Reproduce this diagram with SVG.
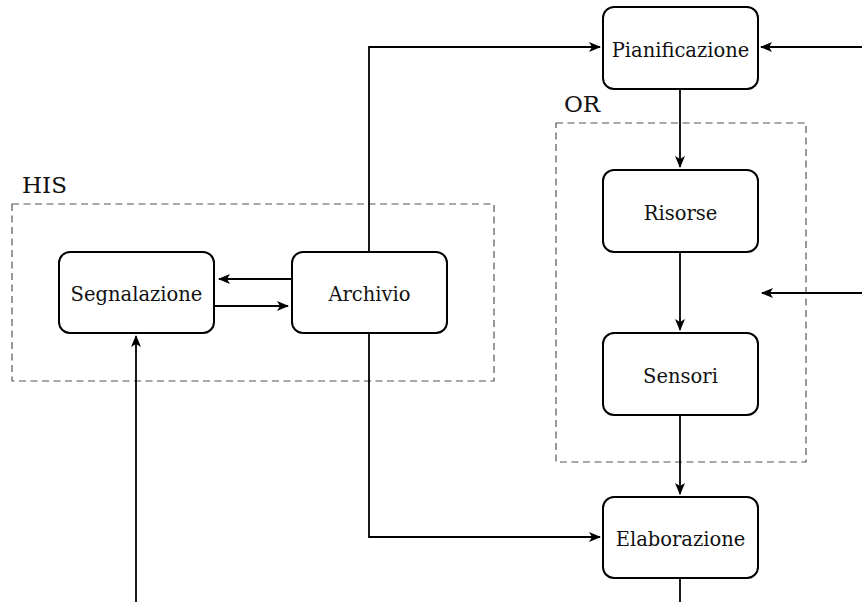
<svg xmlns="http://www.w3.org/2000/svg" width="862" height="602" viewBox="0 0 862 602">
<defs>
<style>
.box{fill:#fff;stroke:#000;stroke-width:2}
.grp{fill:none;stroke:#555;stroke-width:1.2;stroke-dasharray:7 4.5}
.lbl{font-family:"DejaVu Serif","Liberation Serif",serif;font-size:19.5px;text-anchor:middle;fill:#111}
.glbl{font-family:"DejaVu Serif","Liberation Serif",serif;font-size:23px;fill:#111}
.c{fill:none;stroke:#000;stroke-width:1.8}
</style>
<marker id="ah" viewBox="0 0 12 10" refX="11" refY="5" markerWidth="12" markerHeight="10" markerUnits="userSpaceOnUse" orient="auto">
<path d="M0,0 L12,5 L0,10 L3,5 Z" fill="#000"/>
</marker>
</defs>
<rect width="862" height="602" fill="#fff"/>
<g id="HIS">
<rect class="grp" x="12" y="204" width="482" height="177"/>
<text class="glbl" x="22" y="193">HIS</text>
</g>
<g id="OR">
<rect class="grp" x="556" y="123" width="250" height="339"/>
<text class="glbl" x="564" y="112">OR</text>
</g>
<g id="connectors">
<path class="c" d="M292,279 H219" marker-end="url(#ah)"/>
<path class="c" d="M214,306 H288" marker-end="url(#ah)"/>
<path class="c" d="M369,252 V47 H600" marker-end="url(#ah)"/>
<path class="c" d="M862,47 H761" marker-end="url(#ah)"/>
<path class="c" d="M369,333 V537 H600" marker-end="url(#ah)"/>
<path class="c" d="M680,89 V167" marker-end="url(#ah)"/>
<path class="c" d="M680,252 V330" marker-end="url(#ah)"/>
<path class="c" d="M680,415 V494" marker-end="url(#ah)"/>
<path class="c" d="M862,293 H762" marker-end="url(#ah)"/>
<path class="c" d="M136,602 V336" marker-end="url(#ah)"/>
<path class="c" d="M680,578 V602"/>
</g>
<g id="Pianificazione">
<rect class="box" x="603" y="7" width="155" height="82" rx="11"/>
<text class="lbl" x="680.5" y="57">Pianificazione</text>
</g>
<g id="Risorse">
<rect class="box" x="603" y="170" width="155" height="82" rx="11"/>
<text class="lbl" x="680.5" y="220">Risorse</text>
</g>
<g id="Sensori">
<rect class="box" x="603" y="333" width="155" height="82" rx="11"/>
<text class="lbl" x="680.5" y="383">Sensori</text>
</g>
<g id="Elaborazione">
<rect class="box" x="603" y="497" width="155" height="81" rx="11"/>
<text class="lbl" x="680.5" y="546">Elaborazione</text>
</g>
<g id="Segnalazione">
<rect class="box" x="59" y="252" width="155" height="81" rx="11"/>
<text class="lbl" x="136.5" y="301">Segnalazione</text>
</g>
<g id="Archivio">
<rect class="box" x="292" y="252" width="155" height="81" rx="11"/>
<text class="lbl" x="369.5" y="301">Archivio</text>
</g>
</svg>
